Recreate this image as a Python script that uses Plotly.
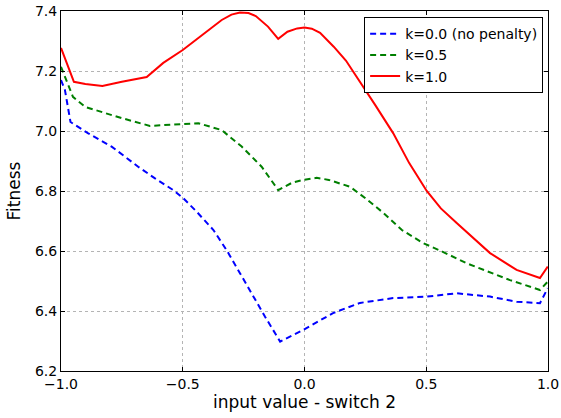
import plotly.graph_objects as go

# k = 1.0
x_red = [-1.0, -0.947, -0.90, -0.83, -0.75, -0.648, -0.58, -0.5, -0.42, -0.34, -0.30, -0.265,
         -0.23, -0.20, -0.15, -0.108, -0.07, -0.03, 0.0, 0.03, 0.064, 0.12, 0.17, 0.215, 0.29, 0.364,
         0.43, 0.502, 0.56, 0.625, 0.69, 0.762, 0.871, 0.967, 0.999]
y_red = [7.277, 7.164, 7.157, 7.15, 7.164, 7.18, 7.227, 7.27, 7.32, 7.37, 7.388, 7.395,
         7.393, 7.383, 7.348, 7.307, 7.331, 7.342, 7.345, 7.341, 7.327, 7.281, 7.235, 7.18, 7.087, 6.993,
         6.893, 6.80, 6.742, 6.693, 6.645, 6.593, 6.537, 6.51, 6.548]

# k = 0.5
x_green = [-1.0, -0.975, -0.951, -0.90, -0.751, -0.635, -0.5, -0.436, -0.34, -0.258, -0.176,
           -0.108, -0.05, -0.005, 0.05, 0.10, 0.187, 0.25, 0.324, 0.40, 0.488, 0.566, 0.666,
           0.75, 0.844, 0.967, 0.999]
y_green = [7.214, 7.163, 7.114, 7.08, 7.043, 7.017, 7.023, 7.026, 7.003, 6.948, 6.881,
           6.803, 6.828, 6.837, 6.844, 6.837, 6.814, 6.776, 6.727, 6.67, 6.626, 6.598, 6.559,
           6.533, 6.503, 6.47, 6.498]

# k = 0.0 (no penalty)
x_blue = [-1.0, -0.984, -0.961, -0.888, -0.792, -0.683, -0.614, -0.539, -0.498, -0.443, -0.374,
          -0.32, -0.265, -0.21, -0.162, -0.10, -0.005, 0.117, 0.228, 0.364, 0.502, 0.625,
          0.762, 0.871, 0.967, 0.999]
y_blue = [7.17, 7.137, 7.03, 6.992, 6.948, 6.881, 6.842, 6.803, 6.776, 6.731, 6.67,
          6.603, 6.526, 6.448, 6.381, 6.298, 6.337, 6.393, 6.427, 6.443, 6.448, 6.459,
          6.448, 6.431, 6.426, 6.476]

x_ticks = [-1.0, -0.5, 0.0, 0.5, 1.0]
y_ticks = [6.2, 6.4, 6.6, 6.8, 7.0, 7.2, 7.4]

font = "DejaVu Sans"

fig = go.Figure()
fig.add_trace(go.Scatter(x=x_blue, y=y_blue, mode="lines", name="k=0.0 (no penalty)",
                         line=dict(color="#0000ff", width=2, dash="6px,4px")))
fig.add_trace(go.Scatter(x=x_green, y=y_green, mode="lines", name="k=0.5",
                         line=dict(color="#007f00", width=2, dash="6px,4px")))
fig.add_trace(go.Scatter(x=x_red, y=y_red, mode="lines", name="k=1.0",
                         line=dict(color="#ff0000", width=2)))

axis_common = dict(
    showline=True, linecolor="black", linewidth=1, mirror="allticks",
    ticks="inside", ticklen=4, tickcolor="black",
    showgrid=True, gridcolor="#b4b4b4", gridwidth=1, griddash="dot",
    zeroline=False, tickfont=dict(family=font, size=14, color="black"),
    tickformat=".1f", automargin=False,
)

fig.update_xaxes(range=[-1.0, 1.0], tickvals=x_ticks,
                 title=dict(text="input value - switch 2", font=dict(family=font, size=17, color="black"), standoff=5),
                 **axis_common)
fig.update_yaxes(range=[6.2, 7.4], tickvals=y_ticks,
                 title=dict(text="Fitness", font=dict(family=font, size=17, color="black"), standoff=9),
                 **axis_common)

fig.update_layout(
    width=561, height=418,
    margin=dict(l=61, r=13, t=11, b=47, autoexpand=False),
    paper_bgcolor="white", plot_bgcolor="white",
    font=dict(family=font, size=14, color="black"),
    legend=dict(x=0.99, y=0.983, xanchor="right", yanchor="top",
                bgcolor="white", bordercolor="black", borderwidth=1,
                font=dict(family=font, size=14, color="black"),
                tracegroupgap=0, itemwidth=30),
    showlegend=True,
)

fig.write_html("out.html", config={"displayModeBar": False},
               post_script="document.body.style.margin='0';")
